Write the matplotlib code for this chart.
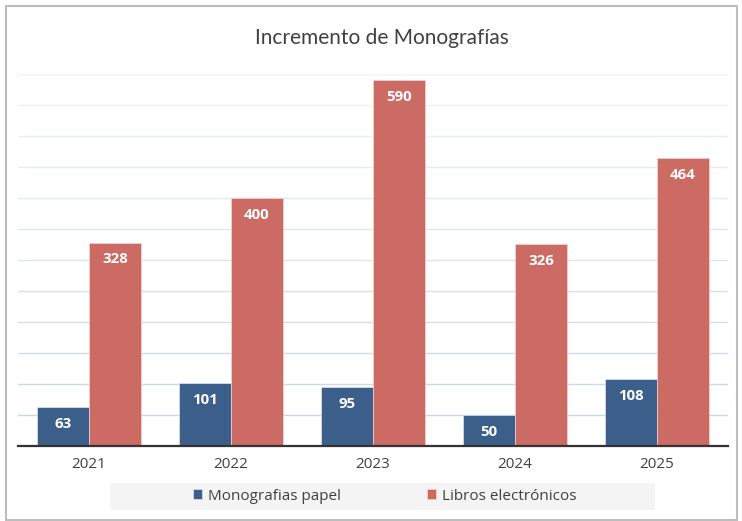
import matplotlib
matplotlib.use("Agg")
import matplotlib.pyplot as plt
import numpy as np
from matplotlib.patches import Rectangle

years = ["2021", "2022", "2023", "2024", "2025"]
papel = [63, 101, 95, 50, 108]
electronicos = [328, 400, 590, 326, 464]

plt.rcParams['font.family'] = ['Open Sans', 'DejaVu Sans']

W, H = 742, 521
fig = plt.figure(figsize=(W / 100, H / 100), dpi=100)
ax = fig.add_axes([18 / W, 75 / H, 710 / W, 372 / H])

x = np.arange(len(years))
width = 0.366
blue = '#3b5e8b'
red = '#cc6a64'

# gridlines, fading toward the top
for i, v in enumerate(range(50, 601, 50)):
    a = 1.0 - 0.75 * i / 11
    ax.axhline(v, color='#c6d6ea', lw=1, alpha=a, zorder=0)

b1 = ax.bar(x - width / 2, papel, width, color=blue, edgecolor='#dfe6ef', lw=0.5, zorder=2)
b2 = ax.bar(x + width / 2, electronicos, width, color=red, edgecolor='#f0d6d4', lw=0.5, zorder=2)

def etiquetas(rects):
    for rect in rects:
        h = rect.get_height()
        ax.annotate(f'{int(h)}',
                    xy=(rect.get_x() + rect.get_width() / 2, h),
                    xytext=(0, -12), textcoords="offset points",
                    ha='center', va='center', color='white',
                    fontsize=10.8, fontweight='bold', zorder=3)

etiquetas(b1)
etiquetas(b2)

ax.set_xlim(-0.5, len(years) - 0.5)
ax.set_ylim(0, 600)
ax.set_xticks(x)
ax.set_xticklabels(years, fontsize=11, color='#404040')
ax.set_yticks([])
ax.tick_params(axis='x', length=0, pad=8)
for s in ['top', 'right', 'left']:
    ax.spines[s].set_visible(False)
ax.spines['bottom'].set_color('#333333')
ax.spines['bottom'].set_linewidth(1.6)

fig.text(382 / W, 1 - 38 / H, 'Incremento de Monografías', ha='center', va='center',
         fontsize=15, color='#404040', family=['Lato', 'DejaVu Sans'])

# legend background band
fig.add_artist(Rectangle((110 / W, 1 - 510 / H), 545 / W, 27 / H,
                         transform=fig.transFigure, facecolor='#f4f4f4',
                         edgecolor='none', zorder=0))
fig.legend([b1, b2], ['Monografias papel', 'Libros electrónicos'],
           loc='center', bbox_to_anchor=(385 / W, 1 - 496 / H), ncol=2,
           frameon=False, fontsize=11, handlelength=0.6, handleheight=0.6,
           handletextpad=0.4, columnspacing=5.6, labelcolor='#404040')

# chart border
fig.add_artist(Rectangle((6 / W, 1 / H), 731 / W, 514 / H, transform=fig.transFigure,
                         fill=False, edgecolor='#bdbdbd', lw=1.5))

fig.savefig('out.png', dpi=100)
